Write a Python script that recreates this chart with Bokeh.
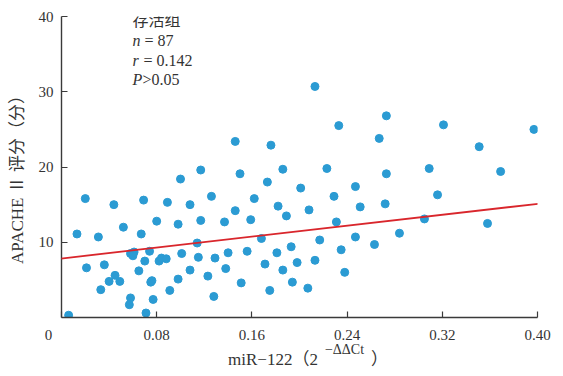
from bokeh.plotting import figure
from bokeh.models import (Range1d, FixedTicker, Label, Slope, LinearAxis,
                          CustomJSTickFormatter)
from bokeh.embed import file_html
from bokeh.resources import INLINE

# miR-122 relative expression (2^-ΔΔCt)
x_vals = [0.006, 0.013, 0.020, 0.021, 0.044, 0.031, 0.036, 0.033, 0.040, 0.045,
          0.049, 0.052, 0.058, 0.057, 0.058, 0.061, 0.060, 0.067, 0.069, 0.065,
          0.070, 0.074, 0.071, 0.077, 0.075, 0.076, 0.080, 0.082, 0.084, 0.088,
          0.089, 0.091, 0.098, 0.100, 0.098, 0.101, 0.108, 0.108, 0.114, 0.115,
          0.117, 0.117, 0.123, 0.126, 0.129, 0.128,
          0.137, 0.138, 0.140, 0.146, 0.146, 0.150, 0.151, 0.156, 0.159, 0.162,
          0.168, 0.171, 0.173, 0.175, 0.176, 0.181, 0.182, 0.186, 0.186, 0.189,
          0.193, 0.194, 0.198, 0.201, 0.208, 0.207, 0.213, 0.213, 0.217, 0.223,
          0.229, 0.231, 0.233, 0.235, 0.238, 0.247, 0.251, 0.247, 0.263, 0.267,
          0.273, 0.273, 0.272, 0.284, 0.305, 0.309, 0.316, 0.321, 0.351, 0.358,
          0.369, 0.397]
# APACHE II score
y_vals = [0.3, 11.1, 15.8, 6.6, 15.0, 10.7, 7.0, 3.7, 4.8, 5.6,
          4.8, 12.0, 2.6, 1.7, 8.5, 8.7, 8.2, 11.1, 15.6, 6.2,
          7.5, 8.8, 0.6, 2.4, 4.7, 4.9, 12.8, 7.5, 7.9, 7.8,
          15.3, 3.6, 12.4, 18.4, 5.1, 8.5, 15.0, 6.3, 9.9, 8.0,
          19.6, 12.9, 5.5, 16.1, 7.9, 2.8,
          12.7, 6.5, 8.6, 23.4, 14.2, 19.1, 4.6, 8.8, 13.0, 15.8,
          10.5, 7.1, 18.0, 3.6, 22.9, 8.6, 14.8, 19.7, 6.3, 13.5,
          9.4, 4.7, 7.3, 17.2, 14.3, 3.9, 30.7, 7.6, 10.3, 19.8,
          16.1, 12.7, 25.5, 9.0, 6.0, 17.4, 14.7, 10.7, 9.7, 23.8,
          26.8, 19.1, 15.1, 11.2, 13.1, 19.8, 16.3, 25.6, 22.7, 12.5,
          19.4, 25.0]

fit_intercept = 7.84
fit_slope = 18.15

x_ticks = [0, 0.08, 0.16, 0.24, 0.32, 0.40]
x_tick_labels = ["0", "0.08", "0.16", "0.24", "0.32", "0.40"]
y_ticks = [10, 20, 30, 40]
group_name = "存活组"
n_value = "87"
r_value = "0.142"
p_value = "0.05"
y_title = "APACHE Ⅱ 评分（分）"
x_title_main = "miR−122（2"
x_title_sup = "−ΔΔCt"
x_title_end = "）"

SERIF = "'Liberation Serif', 'Noto Sans CJK SC'"
AXIS_COLOR = "#3a3a3a"
TEXT_COLOR = "#333333"
NB = "\u00a0"

p = figure(frame_width=476, frame_height=301, x_range=Range1d(0, 0.40),
           y_range=Range1d(0, 40), output_backend="svg", toolbar_location=None,
           min_border_left=61, min_border_right=18, min_border_top=16,
           min_border_bottom=0)
p.outline_line_color = None
p.grid.visible = False

for ax in (p.xaxis, p.yaxis):
    ax.axis_line_color = AXIS_COLOR
    ax.axis_line_width = 1.4
    ax.major_tick_line_color = AXIS_COLOR
    ax.major_tick_line_width = 1.2
    ax.major_tick_in = 6
    ax.major_tick_out = 0
    ax.minor_tick_line_color = None
    ax.major_label_text_font = SERIF
    ax.major_label_text_font_size = "15px"
    ax.major_label_text_color = TEXT_COLOR

# x tick labels; the origin label is padded so it sits left of the corner
pad = NB * 7
p.xaxis.ticker = FixedTicker(ticks=x_ticks)
p.xaxis.formatter = CustomJSTickFormatter(
    args=dict(labs=x_tick_labels, pad=pad),
    code="return index == 0 ? labs[0] + pad : labs[index];")
p.xaxis.major_label_standoff = 9

p.yaxis.ticker = FixedTicker(ticks=y_ticks)
p.yaxis.major_label_standoff = 8
p.yaxis.axis_label = y_title + NB * 4
p.yaxis.axis_label_text_font = SERIF
p.yaxis.axis_label_text_font_size = "17px"
p.yaxis.axis_label_text_font_style = "normal"
p.yaxis.axis_label_text_color = TEXT_COLOR
p.yaxis.axis_label_standoff = 9

# x axis title built from two stacked label-only axes (superscript row, main row)
def title_axis(ticks, labels, size, standoff):
    ax = LinearAxis(ticker=FixedTicker(ticks=ticks),
                    formatter=CustomJSTickFormatter(args=dict(labs=labels),
                                                    code="return labs[index];"))
    ax.axis_line_color = None
    ax.major_tick_line_color = None
    ax.major_tick_out = 0
    ax.major_tick_in = 0
    ax.minor_tick_line_color = None
    ax.minor_tick_out = 0
    ax.major_label_text_font = SERIF
    ax.major_label_text_font_size = size
    ax.major_label_text_color = TEXT_COLOR
    ax.major_label_standoff = standoff
    p.add_layout(ax, "below")

# reference-pixel helper for placement
def dx(px):
    return (px - 62) / 1190.0

title_axis([dx(345)], [x_title_sup], "14px", -4)
title_axis([dx(273.5), dx(380)], [x_title_main, x_title_end], "17px", -10)

p.scatter(x_vals, y_vals, size=8, fill_color="#2b9bd3", line_color="#2b9bd3")
p.add_layout(Slope(gradient=fit_slope, y_intercept=fit_intercept,
                   line_color="#d9262c", line_width=1.8))

def dy(py):
    return (318 - py) / 7.525

def lab(px, py, text, style="normal"):
    p.add_layout(Label(x=dx(px), y=dy(py), text=text, text_font=SERIF,
                       text_font_size="16px", text_font_style=style,
                       text_color=TEXT_COLOR, text_align="left",
                       text_baseline="middle"))

# statistics box
lab(133, 21, group_name)
lab(133, 41, "n", style="italic")
lab(141, 41, NB + "=" + NB + n_value)
lab(133, 61, "r", style="italic")
lab(140, 61, NB + "=" + NB + r_value)
lab(133, 80, "P", style="italic")
lab(143, 80, ">" + p_value)

open("out.html", "w").write(file_html(p, INLINE))
